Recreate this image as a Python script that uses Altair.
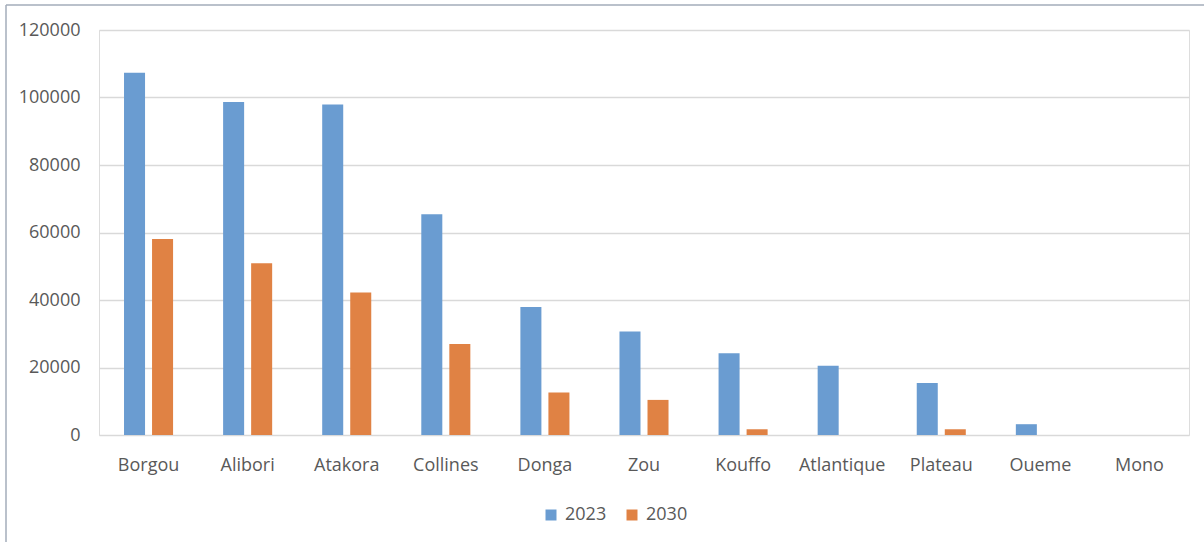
import altair as alt
import pandas as pd

regions = ["Borgou", "Alibori", "Atakora", "Collines", "Donga", "Zou",
           "Kouffo", "Atlantique", "Plateau", "Oueme", "Mono"]
values_2023 = [107300, 98700, 97900, 65400, 37900, 30700, 24200, 20500, 15400, 3200, 0]
values_2030 = [58100, 50900, 42200, 27000, 12600, 10400, 1700, 0, 1700, 0, 0]
years = ["2023", "2030"]
colors = ["#6A9CD1", "#E08244"]
y_ticks = [0, 20000, 40000, 60000, 80000, 100000, 120000]

rows = []
for r, a, b in zip(regions, values_2023, values_2030):
    rows.append({"region": r, "year": years[0], "value": a})
    rows.append({"region": r, "year": years[1], "value": b})
df = pd.DataFrame(rows)

font = "Open Sans"
label_color = "#595959"

bars = alt.Chart(df).mark_bar().encode(
    x=alt.X("region:N", sort=regions, title=None,
            scale=alt.Scale(paddingInner=0.505, paddingOuter=0.2525),
            axis=alt.Axis(labelAngle=0, ticks=False, domain=False, grid=False,
                          labelFontSize=18, labelColor=label_color, labelFont=font,
                          labelPadding=21)),
    xOffset=alt.XOffset("year:N", sort=years,
                        scale=alt.Scale(paddingInner=0.25, paddingOuter=0)),
    y=alt.Y("value:Q", title=None,
            scale=alt.Scale(domain=[0, 120000], nice=False),
            axis=alt.Axis(values=y_ticks, format="d", ticks=False, domain=False,
                          gridColor="#D9D9D9", gridWidth=1.5,
                          labelFontSize=18, labelColor=label_color, labelFont=font,
                          labelPadding=19)),
    color=alt.Color("year:N", sort=years,
                    scale=alt.Scale(domain=years, range=colors),
                    legend=alt.Legend(title=None, orient="none", direction="horizontal",
                                      legendX=443, legendY=476,
                                      symbolType="square", symbolSize=121,
                                      symbolStrokeWidth=0,
                                      labelFontSize=18, labelColor=label_color,
                                      labelFont=font, columnPadding=16,
                                      labelOffset=5)),
)

frame_df = pd.DataFrame({"k": [0]})
frame_top = alt.Chart(frame_df).mark_rule(color="#A3ADBA", strokeWidth=1.5).encode(
    x=alt.value(-93), x2=alt.value(1105), y=alt.value(-25))
frame_left = alt.Chart(frame_df).mark_rule(color="#A3ADBA", strokeWidth=1.5).encode(
    x=alt.value(-93), y=alt.value(-25), y2=alt.value(512))

chart = alt.layer(bars, frame_top, frame_left).properties(
    width=1090, height=405,
    autosize=alt.AutoSizeParams(type="none"),
    padding={"left": 99, "top": 30, "right": 15, "bottom": 107},
).configure_view(stroke=None).configure(background="white")

chart.save("out.html", embed_options={"renderer": "svg", "actions": False})
